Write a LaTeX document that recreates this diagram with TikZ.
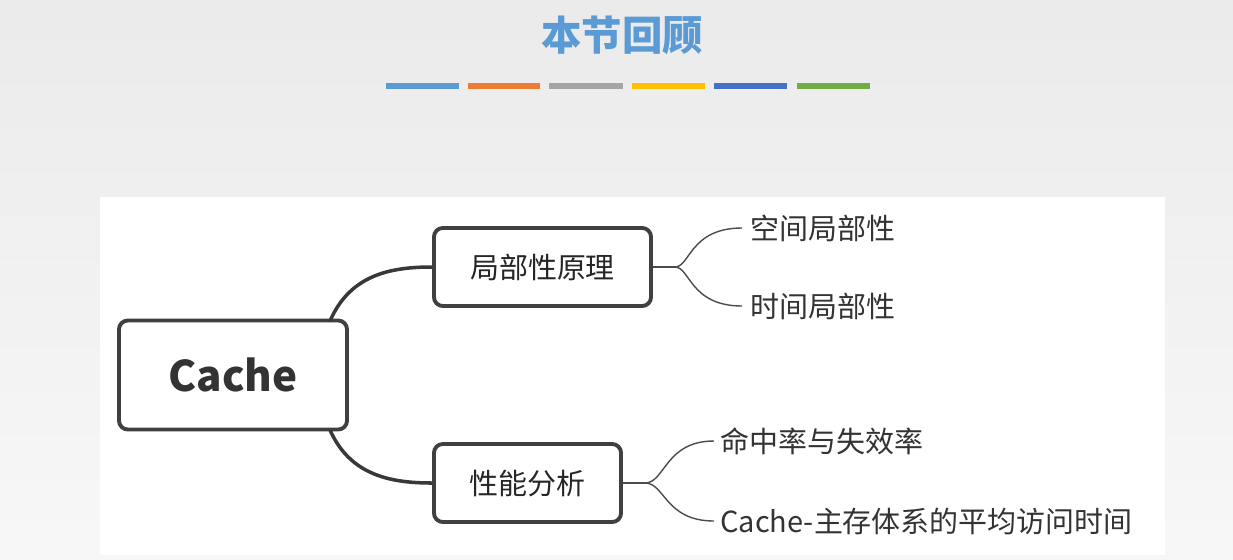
\documentclass[tikz,border=0pt]{standalone}
\usepackage{fontspec}
\setmainfont{Noto Sans CJK SC}
\definecolor{cA}{HTML}{5B9BD5}
\definecolor{cB}{HTML}{ED7D31}
\definecolor{cC}{HTML}{A5A5A5}
\definecolor{cD}{HTML}{FFC000}
\definecolor{cE}{HTML}{4472C4}
\definecolor{cF}{HTML}{70AD47}
\begin{document}
\begin{tikzpicture}[x=0.02cm,y=-0.02cm,
  box/.style={draw=black!75,line width=2.2pt,rounded corners=5pt,fill=white},
  conn/.style={draw=black!78,line width=2pt},
  thin/.style={draw=black!70,line width=0.8pt},
  lbl/.style={anchor=west,font=\fontsize{16.5}{18}\selectfont,text=black!80,inner sep=0pt},
  bar/.style={line width=3.4pt}]
\useasboundingbox (0,0) rectangle (1233,559);
\shade[top color=black!8,bottom color=black!3] (0,0) rectangle (1233,559);
\fill[white] (100,197) rectangle (1165,555);
\node (title) at (622,35) {\fontsize{23}{26}\selectfont\bfseries\color{cA}本节回顾};
\draw[bar,cA] (386,86) -- (459,86);
\draw[bar,cB] (468,86) -- (540,86);
\draw[bar,cC] (549,86) -- (623,86);
\draw[bar,cD] (632,86) -- (705,86);
\draw[bar,cE] (714,86) -- (787,86);
\draw[bar,cF] (797,86) -- (870,86);
\node[box,minimum width=228*0.02cm,minimum height=109*0.02cm] (cache) at (233,375)
  {\fontsize{24}{26}\selectfont\bfseries\color{black!80}Cache};
\node[box,minimum width=217*0.02cm,minimum height=78*0.02cm] (jb) at (542.5,267)
  {\fontsize{16.5}{18}\selectfont\color{black!85}局部性原理};
\node[box,minimum width=187*0.02cm,minimum height=78*0.02cm] (xn) at (527.5,483)
  {\fontsize{16.5}{18}\selectfont\color{black!85}性能分析};
\coordinate (c1) at (330,321);
\coordinate (c2) at (330,430);
\draw[conn] (c1) .. controls (350,275) and (390,267) .. (jb.west);
\draw[conn] (c2) .. controls (350,475) and (390,483) .. (xn.west);
\node[lbl] (a1) at (750,228) {空间局部性};
\node[lbl] (a2) at (750,306) {时间局部性};
\node[lbl] (b1) at (720,441) {命中率与失效率};
\node[lbl] (b2) at (720,521) {Cache-主存体系的平均访问时间};
\coordinate (j1) at (675,267);
\coordinate (j2) at (645,483);
\draw[thin] (jb.east) -- (j1);
\draw[thin] (j1) .. controls (690,267) and (690,228) .. ([xshift=-8*0.02cm]a1.west);
\draw[thin] (j1) .. controls (690,267) and (690,306) .. ([xshift=-8*0.02cm]a2.west);
\draw[thin] (xn.east) -- (j2);
\draw[thin] (j2) .. controls (665,483) and (665,441) .. ([xshift=-6*0.02cm]b1.west);
\draw[thin] (j2) .. controls (665,483) and (665,521) .. ([xshift=-6*0.02cm]b2.west);
\end{tikzpicture}
\end{document}
